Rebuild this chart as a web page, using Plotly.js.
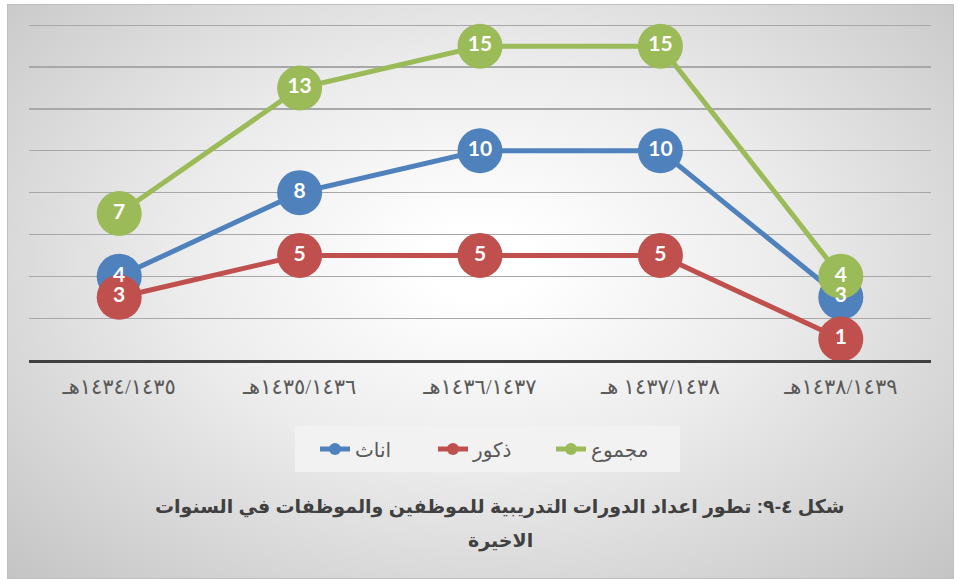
<!DOCTYPE html>
<html>
<head>
<meta charset="utf-8">
<script src="https://cdn.plot.ly/plotly-3.0.1.min.js"></script>
<style>
  html, body { margin: 0; padding: 0; background: #ffffff; }
  #bg {
    position: absolute; left: 7px; top: 4px; width: 945px; height: 573px;
    border: 1px solid #bfbfbf;
    background: radial-gradient(ellipse farthest-corner at 50% 45%, #ffffff 8%, #ececec 45%, #c4c4c4 100%);
  }
  #chart { position: absolute; left: 0; top: 0; width: 958px; height: 579px; }
</style>
</head>
<body>
<div id="bg"></div>
<div id="chart"></div>
<script>
// ---- data ----
const categories = ["١٤٣٤/١٤٣٥هـ", "١٤٣٥/١٤٣٦هـ", "١٤٣٦/١٤٣٧هـ", "١٤٣٧/١٤٣٨ هـ", "١٤٣٨/١٤٣٩هـ"];
const females = [4, 8, 10, 10, 3];   // اناث
const males   = [3, 5, 5, 5, 1];     // ذكور
const totals  = [7, 13, 15, 15, 4];  // مجموع
const seriesNames = ["اناث", "ذكور", "مجموع"];
const titleLines = ["شكل ٤-٩: تطور اعداد الدورات التدريبية للموظفين والموظفات في السنوات", "الاخيرة"];

const colors = ["#4F81BD", "#C0504D", "#9BBB59"];
const seriesValues = [females, males, totals];

const traces = [];
seriesValues.forEach((vals, i) => {
  traces.push({
    type: "scatter", mode: "lines+markers",
    x: categories, y: vals, name: seriesNames[i],
    line: { color: colors[i], width: 5 },
    marker: { color: colors[i], size: 45 },
    hoverinfo: "skip"
  });
});
// labels drawn last so they sit above all markers
seriesValues.forEach((vals, i) => {
  traces.push({
    type: "scatter", mode: "text",
    x: categories, y: vals, text: vals.map(String),
    textposition: "middle center",
    textfont: { family: "Lato, 'Open Sans', sans-serif", size: 21, color: "#ffffff", weight: "bold" },
    showlegend: false, hoverinfo: "skip"
  });
});

const plotTop = 19, plotBottom = 360, plotLeft = 29, plotRight = 931;
const px = v => (v - plotLeft) / (plotRight - plotLeft);      // page x -> paper x
const py = v => (plotBottom - v) / (plotBottom - plotTop);    // page y -> paper y

const layout = {
  width: 958, height: 579,
  margin: { l: plotLeft, r: 958 - plotRight, t: plotTop, b: 579 - plotBottom },
  paper_bgcolor: "rgba(0,0,0,0)",
  plot_bgcolor: "rgba(0,0,0,0)",
  showlegend: true,
  xaxis: {
    type: "category",
    range: [-0.5, 4.5],
    showgrid: false, zeroline: false,
    showline: true, linecolor: "#404040", linewidth: 3,
    ticks: "",
    ticklabelstandoff: 6,
    tickfont: { family: "'Times New Roman', 'DejaVu Sans', serif", size: 21, color: "#595959" },
    fixedrange: true
  },
  yaxis: {
    range: [0, 16.3], tick0: 0, dtick: 2,
    showticklabels: false,
    showgrid: true, gridcolor: "#a8a8a8", gridwidth: 1.3,
    zeroline: false, showline: false, ticks: "",
    fixedrange: true
  },
  shapes: [{
    type: "rect", xref: "paper", yref: "paper",
    x0: px(295), x1: px(680), y0: py(472), y1: py(426),
    fillcolor: "#f2f2f2", line: { width: 0 }, layer: "below"
  }],
  legend: {
    orientation: "h",
    x: px(492), xanchor: "center",
    y: py(449), yanchor: "middle",
    bgcolor: "rgba(0,0,0,0)",
    borderwidth: 0,
    font: { family: "Arial, 'DejaVu Sans', sans-serif", size: 20, color: "#595959" },
    itemsizing: "constant",
    entrywidth: 73, entrywidthmode: "pixels"
  },
  annotations: titleLines.map((t, i) => ({
    text: "<b>" + t + "</b>",
    xref: "paper", yref: "paper",
    x: px(500), y: py(507 + i * 34),
    xanchor: "center", yanchor: "middle",
    showarrow: false,
    font: { family: "Arial, 'Liberation Sans', 'DejaVu Sans', sans-serif", size: 19, color: "#404040" }
  }))
};

Plotly.newPlot("chart", traces, layout, { displayModeBar: false, staticPlot: true });
</script>
</body>
</html>
